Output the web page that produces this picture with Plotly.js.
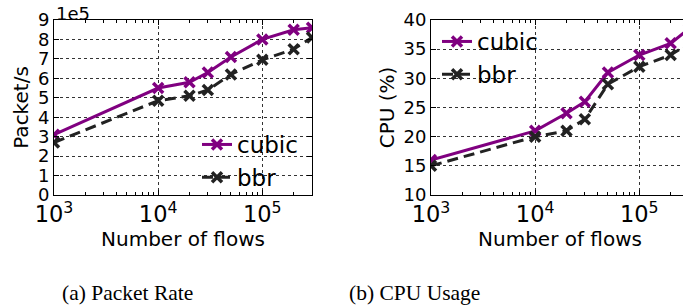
<!DOCTYPE html>
<html><head><meta charset="utf-8">
<script src="https://cdn.plot.ly/plotly-3.0.1.min.js"></script>
<style>html,body{margin:0;padding:0;overflow:hidden;background:#fff;width:683px;height:305px}</style>
</head><body><div id="chart"></div>
<script>
// Data
const flows = [1000, 10000, 20000, 30000, 50000, 100000, 200000, 300000];
const packetCubic_1e5 = [3.1, 5.5, 5.8, 6.3, 7.1, 8.0, 8.5, 8.6];
const packetBbr_1e5   = [2.7, 4.85, 5.1, 5.4, 6.2, 6.95, 7.5, 8.1];
const cpuCubic = [16, 21, 24, 26, 31, 34, 36, 38.5];
const cpuBbr   = [15, 20, 21, 23, 29, 32, 34, 36];
const seriesNames = ['cubic', 'bbr'];
const captions = ['(a) Packet Rate', '(b) CPU Usage'];

const W = 700, H = 305;
const purple = '#800080', dark = '#222222';
const font = 'DejaVu Sans, sans-serif';

function tr(x, y, name, color, dash, xa, ya, leg, show) {
  return {x: x, y: y, name: name, type: 'scatter', mode: 'lines+markers',
    xaxis: xa, yaxis: ya, legend: leg, showlegend: show,
    line: {color: color, width: 3, dash: dash},
    marker: {symbol: 'x-thin', size: 10, color: color, line: {color: color, width: 3.5}}};
}
const data = [
  tr(flows, packetCubic_1e5, seriesNames[0], purple, 'solid', 'x', 'y', 'legend', true),
  tr(flows, packetBbr_1e5, seriesNames[1], dark, '11px,6px', 'x', 'y', 'legend', true),
  tr(flows, cpuCubic, seriesNames[0], purple, 'solid', 'x2', 'y2', 'legend2', true),
  tr(flows, cpuBbr, seriesNames[1], dark, '11px,6px', 'x2', 'y2', 'legend2', true)
];

const ydom = [1 - 195/H, 1 - 20/H];
function xax(dom, anchor) {
  return {type: 'log', domain: dom, anchor: anchor, range: [3, Math.log10(3e5)],
    dtick: 1, exponentformat: 'power', showexponent: 'all',
    ticks: 'inside', ticklen: 5, tickcolor: '#000', mirror: 'allticks',
    showline: true, linecolor: '#000', linewidth: 1,
    showgrid: true, gridcolor: '#333', griddash: 'dot', gridwidth: 1,
    minor: {ticks: 'inside', ticklen: 3, tickcolor: '#000', showgrid: false},
    tickfont: {family: font, size: 18, color: '#000'},
    title: {text: 'Number of flows', font: {family: font, size: 20, color: '#000'}, standoff: 2},
    zeroline: false};
}
function yax(dom, anchor, range, dtick, title) {
  return {domain: dom, anchor: anchor, range: range, dtick: dtick,
    ticks: 'inside', ticklen: 5, tickcolor: '#000', mirror: 'allticks',
    showline: true, linecolor: '#000', linewidth: 1,
    showgrid: true, gridcolor: '#333', griddash: 'dot', gridwidth: 1,
    tickfont: {family: font, size: 18, color: '#000'},
    title: {text: title, font: {family: font, size: 20, color: '#000'}, standoff: 3},
    zeroline: false};
}

const layout = {
  width: W, height: H, margin: {l: 0, r: 0, t: 0, b: 0},
  paper_bgcolor: '#fff', plot_bgcolor: '#fff', font: {family: font, color: '#000'},
  xaxis: xax([54/W, 312/W], 'y'),
  yaxis: yax(ydom, 'x', [0, 9], 1, 'Packet/s'),
  xaxis2: xax([431/W, 689/W], 'y2'),
  yaxis2: yax(ydom, 'x2', [10, 40], 5, 'CPU (%)'),
  legend: {x: 197/W, y: 1 - 123/H, xanchor: 'left', yanchor: 'top', bgcolor: 'rgba(0,0,0,0)',
    font: {family: font, size: 23, color: '#000'}, tracegroupgap: 0, itemwidth: 30},
  legend2: {x: 437/W, y: 1 - 20/H, xanchor: 'left', yanchor: 'top', bgcolor: 'rgba(0,0,0,0)',
    font: {family: font, size: 23, color: '#000'}, tracegroupgap: 0, itemwidth: 30},
  annotations: [
    {text: '1e5', xref: 'paper', yref: 'paper', x: 54/W, y: 1 - 13/H, xanchor: 'left', yanchor: 'middle',
      showarrow: false, font: {family: font, size: 18, color: '#000'}},
    {text: captions[0], xref: 'paper', yref: 'paper', x: 127/W, y: 1 - 293/H, xanchor: 'center', yanchor: 'middle',
      showarrow: false, font: {family: 'Liberation Serif, serif', size: 21.5, color: '#000'}},
    {text: captions[1], xref: 'paper', yref: 'paper', x: 414/W, y: 1 - 293/H, xanchor: 'center', yanchor: 'middle',
      showarrow: false, font: {family: 'Liberation Serif, serif', size: 21.5, color: '#000'}}
  ]
};
Plotly.newPlot('chart', data, layout, {displayModeBar: false, staticPlot: true});
</script></body></html>
